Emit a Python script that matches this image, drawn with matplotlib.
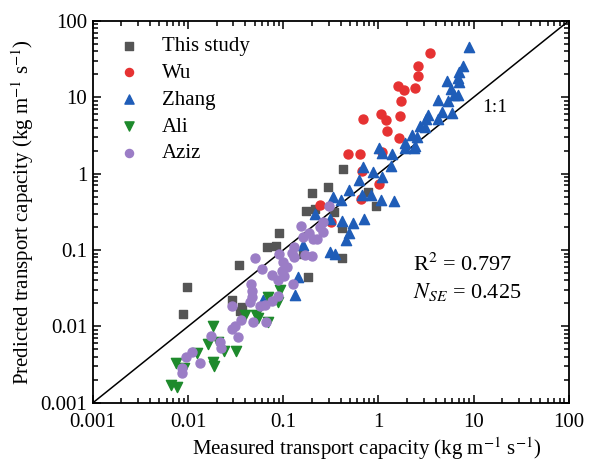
import numpy as np
import matplotlib.pyplot as plt

plt.rcParams['font.family'] = ['Liberation Serif', 'DejaVu Serif']
plt.rcParams['mathtext.fontset'] = 'stix'

# measured (x) vs predicted (y) transport capacity, kg m-1 s-1
study_x = [0.0097, 0.0088, 0.0342, 0.0288, 0.0367, 0.035, 0.090, 0.0835, 0.0673,
           0.181, 0.161, 0.20, 0.294, 0.215, 0.173, 0.340, 0.423, 0.774, 0.94,
           0.413, 0.413]
study_y = [0.033, 0.0146, 0.064, 0.0223, 0.0181, 0.016, 0.168, 0.1135, 0.110,
           0.0446, 0.089, 0.561, 0.671, 0.346, 0.326, 0.316, 1.156, 0.578, 0.379,
           0.195, 0.079]

wu_x = [3.47, 2.59, 2.59, 1.60, 1.85, 2.41, 1.72, 1.68, 1.06, 1.20, 0.685, 1.22,
        1.64, 0.478, 0.638, 1.09, 0.67, 1.01, 0.653, 0.242, 0.316]
wu_y = [38.1, 25.8, 19.1, 14.1, 12.5, 13.3, 8.97, 5.71, 6.06, 5.06, 5.21, 3.63,
        2.94, 1.82, 1.82, 1.93, 1.09, 0.735, 0.468, 0.391, 0.234]

zhang_x = [8.91, 7.71, 7.0, 6.82, 7.0, 5.23, 5.76, 6.2, 6.82, 4.21, 5.36, 4.63,
           5.9, 3.30, 3.15, 4.21, 2.72, 3.07, 2.24, 2.53, 1.89, 1.89, 2.41, 2.35,
           1.01, 1.09, 1.38, 1.35, 0.685, 0.873, 1.09, 0.622, 0.489, 0.67, 0.832,
           0.332, 0.403, 1.06, 1.45, 0.413, 0.538, 0.703, 0.489, 0.455, 0.308,
           0.348, 0.215, 0.308, 0.161, 0.142, 0.132, 0.061]
zhang_y = [45.7, 25.8, 21.5, 17.9, 15.9, 16.4, 12.9, 10.7, 10.7, 9.25, 8.97, 6.44,
           6.25, 5.88, 5.21, 5.21, 4.22, 4.10, 3.22, 3.03, 2.53, 2.18, 2.31, 2.18,
           2.18, 1.87, 1.82, 1.26, 1.23, 1.06, 0.908, 0.83, 0.614, 0.528, 0.528,
           0.497, 0.454, 0.454, 0.44, 0.241, 0.227, 0.256, 0.168, 0.136, 0.0947,
           0.089, 0.298, 0.256, 0.117, 0.0446, 0.026, 0.0223]

ali_x = [0.00659, 0.00762, 0.00745, 0.00904, 0.0161, 0.0182, 0.0182, 0.0187,
         0.0124, 0.0206, 0.0238, 0.0318, 0.0395, 0.0515, 0.054, 0.0689, 0.0689,
         0.0877, 0.092]
ali_y = [0.00172, 0.00162, 0.00334, 0.00287, 0.00592, 0.0102, 0.00344, 0.00305,
         0.00451, 0.00628, 0.0048, 0.0048, 0.0142, 0.0142, 0.013, 0.0115, 0.0244,
         0.021, 0.0301]

aziz_x = [0.0086, 0.0086, 0.0095, 0.011, 0.0133, 0.0173, 0.0216, 0.0221, 0.0288,
          0.031, 0.0333, 0.0359, 0.0288, 0.0446, 0.0468, 0.0468, 0.0457, 0.048,
          0.0567, 0.0641, 0.0656, 0.0758, 0.0877, 0.0758, 0.0877, 0.0966, 0.101,
          0.109, 0.0596, 0.0504, 0.090, 0.099, 0.123, 0.129, 0.153, 0.161, 0.186,
          0.205, 0.225, 0.169, 0.20, 0.242, 0.261, 0.301, 0.261, 0.129, 0.126]
aziz_y = [0.00287, 0.00247, 0.004, 0.00465, 0.00334, 0.00753, 0.00628, 0.00525,
          0.0093, 0.0102, 0.00731, 0.0122, 0.0186, 0.021, 0.0244, 0.0292, 0.0361,
          0.0115, 0.0186, 0.0192, 0.0115, 0.0216, 0.0252, 0.0473, 0.0407, 0.0534,
          0.0459, 0.0603, 0.0568, 0.079, 0.089, 0.070, 0.0919, 0.110, 0.207, 0.149,
          0.168, 0.140, 0.140, 0.0865, 0.084, 0.201, 0.173, 0.379, 0.234, 0.0815,
          0.0361]

fig = plt.figure(figsize=(5.95, 4.62), dpi=100)
ax = fig.add_axes([0.156, 0.128, 0.800, 0.827])

ax.plot([0.001, 100], [0.001, 100], color='black', lw=1.1, zorder=1)

ax.scatter(study_x, study_y, marker='s', s=40, color='#555555', label='This study', zorder=3)
ax.scatter(wu_x, wu_y, marker='o', s=42, color='#e63232', label='Wu', zorder=3)
ax.scatter(zhang_x, zhang_y, marker='^', s=54, color='#1f5db8', label='Zhang', zorder=3)
ax.scatter(ali_x, ali_y, marker='v', s=54, color='#1e8a2c', label='Ali', zorder=3)
ax.scatter(aziz_x, aziz_y, marker='o', s=42, color='#9b7dc6', label='Aziz', zorder=3)

ax.set_xscale('log')
ax.set_yscale('log')
ax.set_xlim(0.001, 100)
ax.set_ylim(0.001, 100)

ticks = [0.001, 0.01, 0.1, 1, 10, 100]
labels = ['0.001', '0.01', '0.1', '1', '10', '100']
ax.set_xticks(ticks)
ax.set_xticklabels(labels)
ax.set_yticks(ticks)
ax.set_yticklabels(labels)
ax.tick_params(which='both', direction='in', top=True, right=True, labelsize=15, width=1.1)
ax.tick_params(which='major', length=6)
ax.tick_params(which='minor', length=3.5)
ax.tick_params(axis='x', which='major', pad=7)
ax.tick_params(axis='y', which='major', pad=4)
for sp in ax.spines.values():
    sp.set_linewidth(1.3)

ax.set_xlabel('Measured transport capacity (kg m$^{-1}$ s$^{-1}$)', fontsize=15)
ax.xaxis.set_label_coords(0.575, -0.085)
ax.set_ylabel('Predicted transport capacity (kg m$^{-1}$ s$^{-1}$)', fontsize=15, labelpad=3)

ax.text(16.5, 7.3, '1:1', fontsize=14, ha='center', va='center')
ax.text(0.672, 0.361, 'R$^2$ = 0.797', transform=ax.transAxes, fontsize=16, va='center')
ax.text(0.672, 0.29, '$N_{SE}$ = 0.425', transform=ax.transAxes, fontsize=16, va='center')

ax.legend(loc='upper left', frameon=False, fontsize=15, handletextpad=0.55,
          labelspacing=0.35, borderaxespad=0.35, bbox_to_anchor=(0.0, 1.0),
          markerscale=0.9)

fig.savefig('out.png', dpi=100)
